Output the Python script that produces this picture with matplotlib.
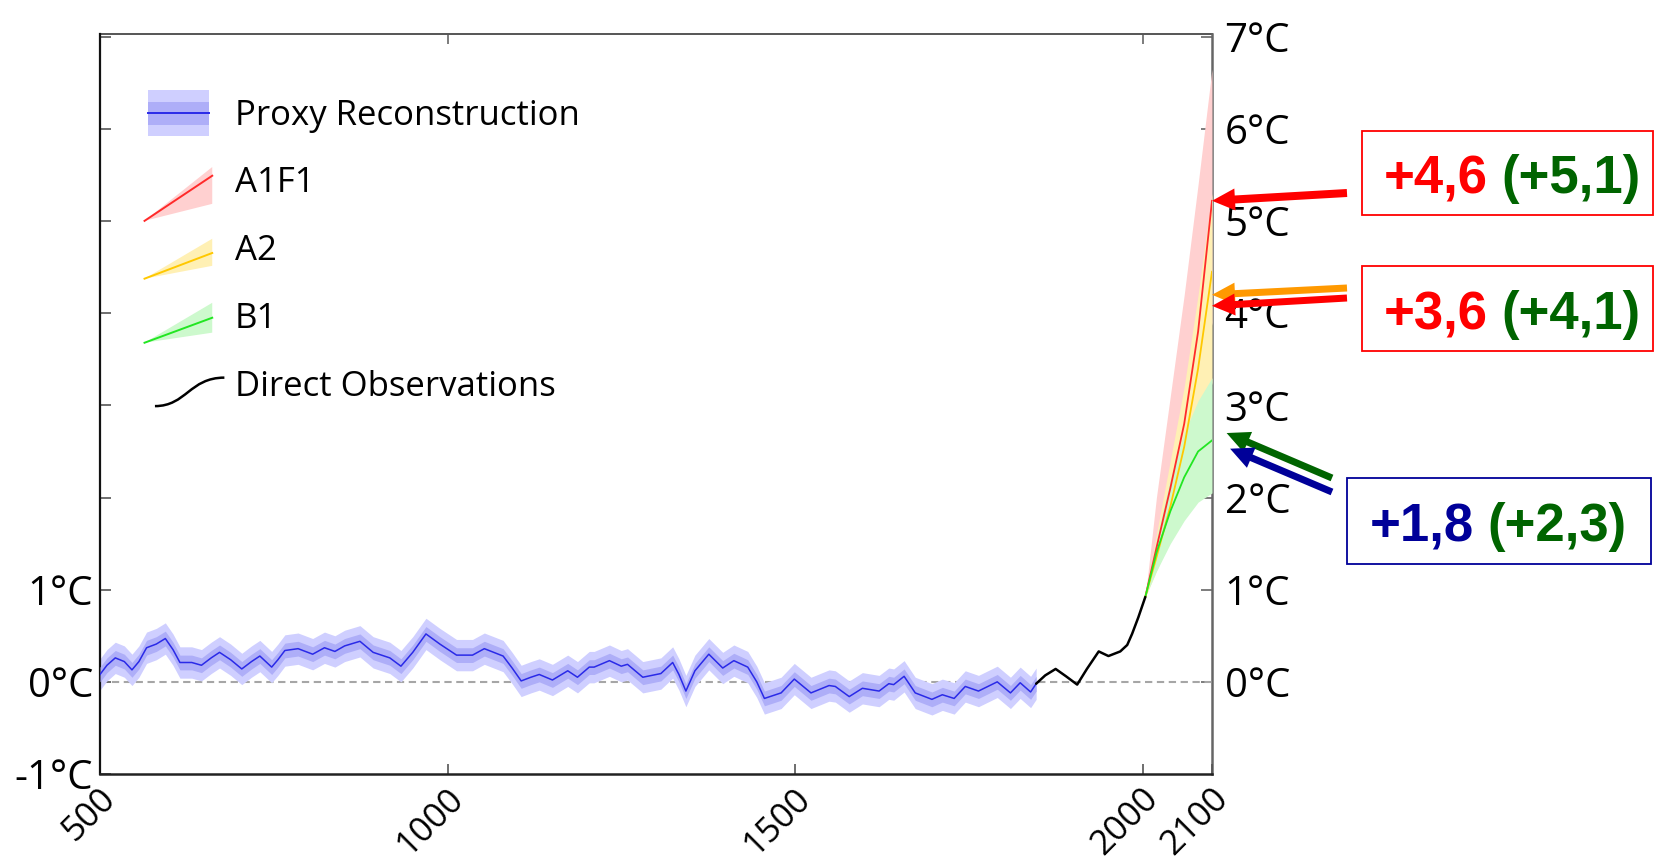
import matplotlib
matplotlib.use("Agg")
import numpy as np
import matplotlib.pyplot as plt
import matplotlib.transforms as mtransforms
from matplotlib.patches import Rectangle, Polygon, FancyArrow, PathPatch
from matplotlib.path import Path
from matplotlib.lines import Line2D
from matplotlib.legend_handler import HandlerBase

W, H, DPI = 1655, 864, 100

# ---------------- data ----------------
proxy_years = [500, 510, 522, 535, 546, 556, 567, 581, 594, 605, 615, 632, 646, 660, 672, 688, 704, 718,
               730, 747, 756, 766, 785, 806, 823, 838, 852, 874, 893, 917, 933, 950, 969, 989, 1013, 1036,
               1053, 1080, 1093, 1106, 1120, 1132, 1151, 1173, 1187, 1204, 1211, 1233, 1250, 1259, 1281,
               1307, 1324, 1333, 1343, 1356, 1376, 1396, 1412, 1432, 1445, 1456, 1480, 1499, 1523, 1549,
               1558, 1578, 1597, 1621, 1635, 1642, 1657, 1673, 1697, 1712, 1729, 1745, 1764, 1791, 1810,
               1824, 1839, 1847]
proxy_temps = [0.08, 0.18, 0.26, 0.22, 0.13, 0.22, 0.37, 0.41, 0.47, 0.35, 0.21, 0.21, 0.18, 0.26, 0.32,
               0.24, 0.14, 0.22, 0.28, 0.16, 0.24, 0.34, 0.36, 0.30, 0.37, 0.33, 0.39, 0.44, 0.32, 0.26,
               0.17, 0.32, 0.52, 0.41, 0.29, 0.29, 0.36, 0.28, 0.15, 0.01, 0.05, 0.08, 0.02, 0.12, 0.05,
               0.16, 0.16, 0.23, 0.17, 0.19, 0.05, 0.09, 0.21, 0.08, -0.10, 0.12, 0.30, 0.15, 0.23, 0.16,
               0.00, -0.18, -0.12, 0.03, -0.12, -0.04, -0.05, -0.16, -0.07, -0.10, -0.02, -0.03, 0.06,
               -0.12, -0.19, -0.14, -0.18, -0.05, -0.10, 0.00, -0.12, -0.01, -0.11, -0.02]
proxy_inner_err = 0.08
proxy_outer_err = 0.17

obs_years = [1847, 1860, 1875, 1890, 1906, 1920, 1937, 1951, 1968, 1978, 1985, 1994, 2004]
obs_temps = [-0.02, 0.07, 0.14, 0.06, -0.03, 0.14, 0.33, 0.28, 0.33, 0.40, 0.52, 0.70, 0.92]

proj_years = [2004, 2020, 2040, 2060, 2080, 2100]
a1f1_mid = [0.92, 1.45, 2.10, 2.80, 3.80, 5.22]
a1f1_low = [0.92, 1.25, 1.70, 2.30, 3.00, 3.90]
a1f1_high = [0.92, 2.00, 3.10, 4.20, 5.40, 6.65]
a2_mid = [0.92, 1.35, 1.90, 2.55, 3.40, 4.45]
a2_low = [0.92, 1.20, 1.55, 2.00, 2.55, 3.25]
a2_high = [0.92, 1.60, 2.40, 3.20, 4.20, 5.30]
b1_mid = [0.92, 1.40, 1.85, 2.22, 2.50, 2.62]
b1_low = [0.92, 1.20, 1.50, 1.75, 1.95, 2.05]
b1_high = [0.92, 1.55, 2.20, 2.70, 3.05, 3.30]

x_ticks = [500, 1000, 1500, 2000, 2100]
x_tick_labels = ["500", "1000", "1500", "2000", "2100"]
top_ticks = [1000, 2000]
left_ticks = [-1, 0, 1, 2, 3, 4, 5, 6, 7]
left_tick_labels = ["-1°C", "0°C", "1°C", "", "", "", "", "", ""]
right_ticks = [0, 1, 2, 3, 4, 5, 6, 7]
right_tick_labels = ["0°C", "1°C", "2°C", "3°C", "4°C", "5°C", "6°C", "7°C"]

legend_labels = ["Proxy Reconstruction", "A1F1", "A2", "B1", "Direct Observations"]

box_main = ["+4,6", "+3,6", "+1,8"]
box_paren = ["(+5,1)", "(+4,1)", "(+2,3)"]
# arrow targets (year, °C)
arrow_targets = [(2100, 5.22), (2100, 4.20), (2100, 4.08), (2121, 2.70), (2126, 2.53)]

# ---------------- style ----------------
PROXY_OUTER = "#cfcfff"
PROXY_INNER = "#aeaef8"
PROXY_LINE = "#2a2ae8"
RED_LINE, RED_BAND = "#ff2a2a", "#ffd0d0"
YEL_LINE, YEL_BAND = "#ffc800", "#fff0b4"
GRN_LINE, GRN_BAND = "#22e622", "#cdf9cd"
BOX_RED = "#ff0000"
BOX_GREEN = "#006400"
BOX_BLUE = "#000099"
ORANGE = "#ff9900"

plt.rcParams['font.family'] = ['Open Sans', 'DejaVu Sans']

fig = plt.figure(figsize=(W / DPI, H / DPI), dpi=DPI)
ax_left, ax_right, ax_top, ax_bot = 100, 1212, 34, 774
ax = fig.add_axes([ax_left / W, 1 - ax_bot / H, (ax_right - ax_left) / W, (ax_bot - ax_top) / H])
ax.set_xlim(500, 2100)
ax.set_ylim(-1, 7.03)

# zero line
ax.axhline(0, color="#a6a6a6", lw=1.5, ls=(0, (3.5, 2.2)), zorder=1)

# proxy reconstruction
py = np.array(proxy_years, float)
pt = np.array(proxy_temps, float)
ax.fill_between(py, pt - proxy_outer_err, pt + proxy_outer_err, color=PROXY_OUTER, lw=0, zorder=2)
ax.fill_between(py, pt - proxy_inner_err, pt + proxy_inner_err, color=PROXY_INNER, lw=0, zorder=3)
ax.plot(py, pt, color=PROXY_LINE, lw=1.1, zorder=4, solid_joinstyle="round")

# projections
ax.fill_between(proj_years, a1f1_low, a1f1_high, color=RED_BAND, lw=0, zorder=2)
ax.fill_between(proj_years, a2_low, a2_high, color=YEL_BAND, lw=0, zorder=2.1)
ax.fill_between(proj_years, b1_low, b1_high, color=GRN_BAND, lw=0, zorder=2.2)
ax.plot(proj_years, a1f1_mid, color=RED_LINE, lw=1.3, zorder=4)
ax.plot(proj_years, a2_mid, color=YEL_LINE, lw=1.3, zorder=4)
ax.plot(proj_years, b1_mid, color=GRN_LINE, lw=1.3, zorder=4)

# direct observations
ax.plot(obs_years, obs_temps, color="black", lw=1.8, zorder=5, solid_capstyle="round",
        solid_joinstyle="round")

# ---------------- axes styling ----------------
ax.set_xticks(x_ticks)
ax.set_xticklabels(x_tick_labels, rotation=45, ha="right", va="center", fontsize=25,
                   rotation_mode="anchor")
ax.tick_params(axis="x", direction="in", length=7.5, width=1.2, color="#555555", pad=14)
offset = mtransforms.ScaledTranslation(11 / DPI, 0, fig.dpi_scale_trans)
for lab in ax.get_xticklabels():
    lab.set_transform(lab.get_transform() + offset)

ax.set_yticks(left_ticks)
ax.set_yticklabels(left_tick_labels, fontsize=29)
ax.tick_params(axis="y", direction="in", length=8, width=1.2, color="#555555", pad=5)

ax.spines["left"].set_linewidth(1.6)
ax.spines["left"].set_color("#111111")
ax.spines["bottom"].set_linewidth(1.8)
ax.spines["bottom"].set_color("#222222")
ax.spines["top"].set_visible(False)
ax.spines["right"].set_visible(False)

sec_top = ax.secondary_xaxis("top")
sec_top.set_xticks(top_ticks)
sec_top.tick_params(axis="x", direction="in", length=7.5, width=1.2, color="#666666", labeltop=False)
sec_top.spines["top"].set_linewidth(1.4)
sec_top.spines["top"].set_color("#555555")

sec_right = ax.secondary_yaxis("right")
sec_right.set_yticks(right_ticks)
sec_right.set_yticklabels(right_tick_labels, fontsize=29)
sec_right.tick_params(axis="y", direction="in", length=8, width=1.2, color="#666666", pad=9)
sec_right.spines["right"].set_linewidth(1.8)
sec_right.spines["right"].set_color("#666666")


# ---------------- legend ----------------
class BandHandler(HandlerBase):
    def create_artists(self, legend, orig_handle, xdescent, ydescent, width, height, fontsize, trans):
        x0, y0 = -xdescent, -ydescent
        c = y0 + height / 2
        hh = 0.66 * fontsize
        outer = Rectangle((x0, c - hh), width, 2 * hh, facecolor=PROXY_OUTER, edgecolor="none", transform=trans)
        inner = Rectangle((x0, c - 0.5 * hh), width, hh, facecolor=PROXY_INNER, edgecolor="none", transform=trans)
        line = Line2D([x0, x0 + width], [c, c], color=PROXY_LINE, lw=1.4, transform=trans)
        return [outer, inner, line]


class WedgeHandler(HandlerBase):
    def __init__(self, line_color, band_color, geom):
        super().__init__()
        self.line_color = line_color
        self.band_color = band_color
        self.geom = geom

    def create_artists(self, legend, orig_handle, xdescent, ydescent, width, height, fontsize, trans):
        x0, y0 = -xdescent, -ydescent
        c = y0 + height / 2
        tip, mid, top, bot = [g * fontsize for g in self.geom]
        xl = x0 - 0.1 * fontsize
        xr = x0 + width + 0.1 * fontsize
        band = Polygon([(xl, c + tip), (xr, c + top), (xr, c + bot)], closed=True,
                       facecolor=self.band_color, edgecolor="none", transform=trans)
        line = Line2D([xl, xr], [c + tip, c + mid], color=self.line_color, lw=1.4, transform=trans)
        return [band, line]


class SCurveHandler(HandlerBase):
    def create_artists(self, legend, orig_handle, xdescent, ydescent, width, height, fontsize, trans):
        x0, y0 = -xdescent, -ydescent
        c = y0 + height / 2
        xs = x0 + 0.2 * fontsize
        xe = x0 + width + 0.45 * fontsize
        ys = c - 0.62 * fontsize
        ye = c + 0.2 * fontsize
        verts = [(xs, ys), (xs + 0.45 * (xe - xs), ys), (xs + 0.5 * (xe - xs), ye), (xe, ye)]
        path = Path(verts, [Path.MOVETO, Path.CURVE4, Path.CURVE4, Path.CURVE4])
        patch = PathPatch(path, facecolor="none", edgecolor="black", lw=1.8, transform=trans)
        return [patch]


handles = [Line2D([], []) for _ in legend_labels]
handler_map = {
    handles[0]: BandHandler(),
    handles[1]: WedgeHandler(RED_LINE, RED_BAND, (-1.15, 0.15, 0.40, -0.66)),
    handles[2]: WedgeHandler(YEL_LINE, YEL_BAND, (-0.86, -0.12, 0.29, -0.49)),
    handles[3]: WedgeHandler(GRN_LINE, GRN_BAND, (-0.75, -0.03, 0.40, -0.46)),
    handles[4]: SCurveHandler(),
}
ax.legend(handles, legend_labels, handler_map=handler_map, loc="upper left",
          bbox_to_anchor=(148 / W, 1 - 93 / H), bbox_transform=fig.transFigure,
          frameon=False, borderpad=0, borderaxespad=0, handlelength=1.75, handleheight=1.4,
          handletextpad=0.75, labelspacing=0.8, prop={"family": "Open Sans", "size": 25})

# ---------------- annotations (overlay in figure pixels) ----------------
ov = fig.add_axes([0, 0, 1, 1], zorder=10)
ov.set_xlim(0, W)
ov.set_ylim(H, 0)
ov.axis("off")
ov.patch.set_alpha(0)


def to_px(x, y):
    dx, dy = ax.transData.transform((x, y))
    return dx, H - dy


boxes = [(1362, 131, 1653, 215, BOX_RED), (1362, 266, 1653, 351, BOX_RED), (1347, 478, 1651, 564, BOX_BLUE)]
text_pos = [(1384, 1641, 193), (1384, 1641, 329), (1370, 1626, 541)]
main_colors = [BOX_RED, BOX_RED, BOX_BLUE]
for (x0, y0, x1, y1, ec), (tl, tr, base), m, p, mc in zip(boxes, text_pos, box_main, box_paren, main_colors):
    ov.add_patch(Rectangle((x0, y0), x1 - x0, y1 - y0, fill=False, edgecolor=ec, lw=1.3))
    ov.text(tl, base, m, color=mc, fontsize=38, fontweight="bold", family="Liberation Sans",
            ha="left", va="baseline")
    ov.text(tr, base, p, color=BOX_GREEN, fontsize=38, fontweight="bold", family="Liberation Sans",
            ha="right", va="baseline")

arrow_tails = [(1347, 193), (1347, 288), (1347, 298), (1332, 478), (1332, 492)]
arrow_colors = [BOX_RED, ORANGE, BOX_RED, BOX_GREEN, BOX_BLUE]
arrow_widths = [8, 7, 7, 7, 7]
for (tx, ty), (ax_, ay_), col, wd in zip(arrow_tails, arrow_targets, arrow_colors, arrow_widths):
    hx, hy = to_px(ax_, ay_)
    ov.add_patch(FancyArrow(tx, ty, hx - tx, hy - ty, width=wd, head_width=22, head_length=23,
                            length_includes_head=True, color=col, lw=0))

fig.savefig("out.png", dpi=DPI)
